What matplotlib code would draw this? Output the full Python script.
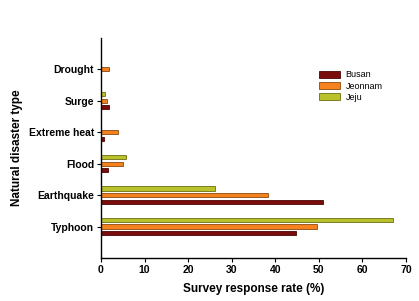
import matplotlib.pyplot as plt
import numpy as np

plt.rcParams['font.family'] = ['Liberation Sans', 'DejaVu Sans']

categories = ['Typhoon', 'Earthquake', 'Flood', 'Extreme heat', 'Surge', 'Drought']
busan = [44.7, 51.0, 1.5, 0.8, 1.8, 0.0]
jeonnam = [49.5, 38.4, 5.0, 3.8, 1.4, 1.8]
jeju = [67.0, 26.2, 5.7, 0.0, 0.9, 0.0]

fig = plt.figure(figsize=(4.19, 3.01), dpi=100)
ax = fig.add_axes([0.241, 0.143, 0.728, 0.731])

y = np.arange(len(categories))
h = 0.13
ax.barh(y - 0.21, busan, height=h, color='#7b0c0c', edgecolor='#4a0505', linewidth=0.6, label='Busan')
ax.barh(y, jeonnam, height=h, color='#f5821f', edgecolor='#8a4a10', linewidth=0.6, label='Jeonnam')
ax.barh(y + 0.21, jeju, height=h, color='#b9c22a', edgecolor='#6b6f10', linewidth=0.6, label='Jeju')

ax.set_xlim(0, 70)
ax.set_ylim(-1, 6)
ax.set_xticks(range(0, 71, 10))
ax.set_yticks(y)
ax.set_yticklabels(categories)
for lab in ax.get_xticklabels() + ax.get_yticklabels():
    lab.set_fontweight('bold')
    lab.set_fontsize(7.5)
ax.tick_params(axis='both', length=3, width=0.8, pad=2)

ax.spines['top'].set_visible(False)
ax.spines['right'].set_visible(False)
ax.spines['left'].set_linewidth(1.0)
ax.spines['bottom'].set_linewidth(1.0)

ax.set_xlabel('Survey response rate (%)', fontsize=8.5, fontweight='bold', labelpad=6)
ax.set_ylabel('Natural disaster type', fontsize=8.5, fontweight='bold', labelpad=4)

ax.legend(loc='upper right', bbox_to_anchor=(0.95, 0.89), frameon=False,
          fontsize=6.5, handlelength=2.3, handleheight=0.8, labelspacing=0.25,
          handletextpad=0.6)

fig.savefig('out.png', dpi=100)
